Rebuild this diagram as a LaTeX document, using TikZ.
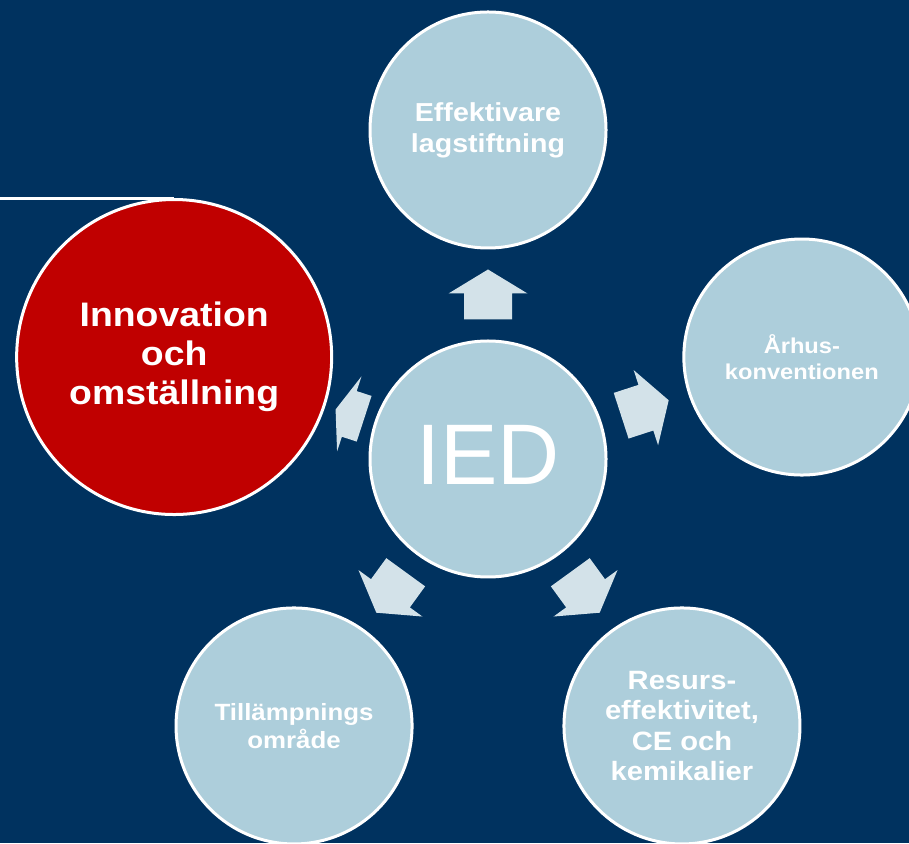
\documentclass[tikz,border=0pt]{standalone}
\usepackage{fontspec}
\setmainfont{Liberation Sans}
\newfontfamily\labfont{Liberation Sans}[FakeStretch=1.1]
\usepackage{tikz}
\usetikzlibrary{calc}
\definecolor{bg}{HTML}{00325F}
\definecolor{disc}{HTML}{ADCEDB}
\definecolor{pale}{HTML}{D3E2E9}
\definecolor{hot}{HTML}{C00000}
\tikzset{
  ring/.style={circle, draw=white, line width=3pt, fill=disc, inner sep=0pt, minimum size=236pt, text=white, align=center},
  hotring/.style={ring, fill=hot, minimum size=315pt},
  lab/.style 2 args={font=\labfont\bfseries\fontsize{#1}{#2}\selectfont},
  blk/.pic={\fill[pale] (-25,-24) -- (1,-24) -- (1,-39.5) -- (25,0) -- (1,39.5) -- (1,24) -- (-25,24) -- cycle;},
}

\begin{document}
\begin{tikzpicture}[x=1pt,y=1pt]
  \fill[bg] (0,0) rectangle (909,843);
  \useasboundingbox (0,0) rectangle (909,843);
  \node[ring, font=\fontsize{86}{86}\selectfont, text depth=8pt] (ied) at (488,384) {IED};
  \node[ring, lab={26}{31}] (lag) at ($(ied)+(90:329)$) {Effektivare\\lagstiftning};
  \node[ring, lab={21.5}{26}] (aar) at ($(ied)+(18:330)$) {Århus-\\konventionen};
  \node[ring, lab={26.5}{30.5}] (res) at ($(ied)+(-54:330)$) {Resurs-\\effektivitet,\\CE och\\kemikalier};
  \node[ring, lab={23.5}{28}] (till) at ($(ied)+(-126:330)$) {Tillämpnings\\område};
  \node[hotring, lab={34}{39}] (inno) at ($(ied)+(162:330)$) {Innovation\\och\\omställning};
  % rule into the red circle
  \coordinate (edge) at (0,0 |- inno.north);
  \draw[white, line width=3pt] (edge) -- (inno.north);
  % arrows out of the hub
  \foreach \n/\a/\s [evaluate=\a as \b using int(\a+180)] in {lag/90/1, aar/18/1, res/-54/1, till/-126/1, inno/162/0.6}
    \pic[rotate=\a, xscale=\s] at ($(ied.\a)!0.5!(\n.\b)$) {blk};
\end{tikzpicture}
\end{document}
